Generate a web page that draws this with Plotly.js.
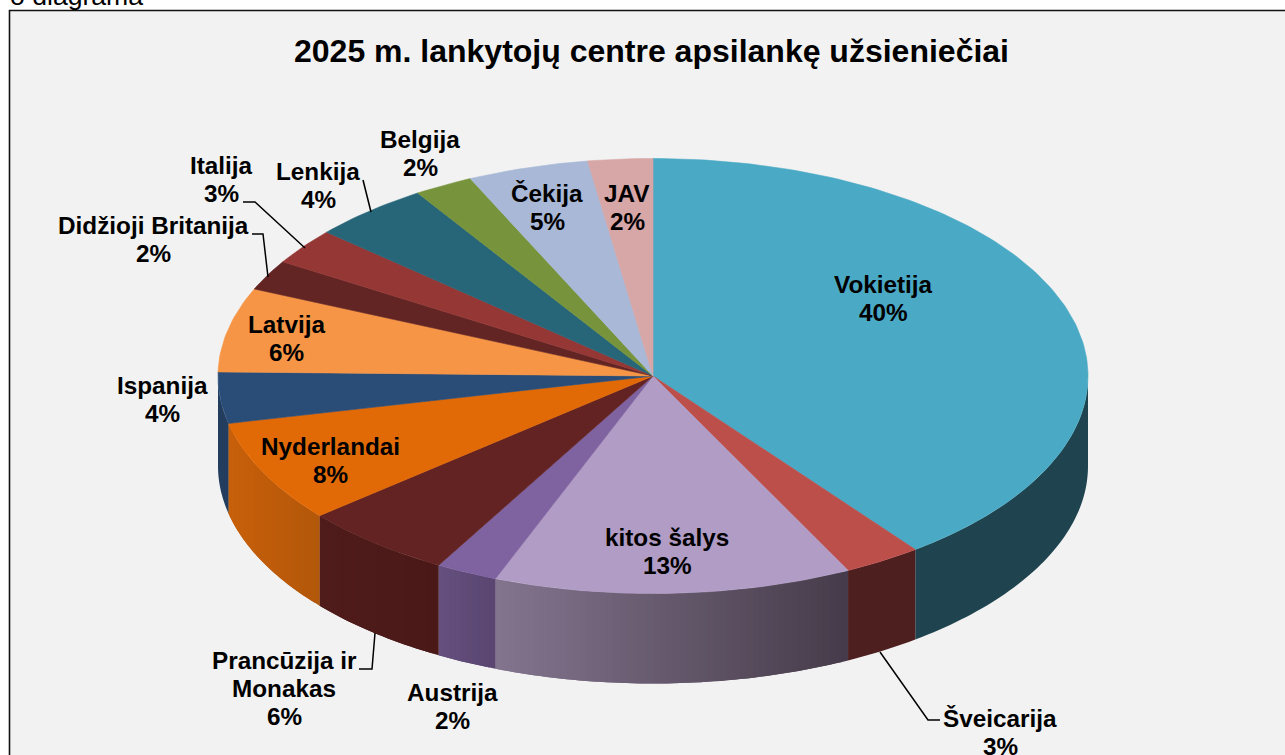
<!DOCTYPE html>
<html>
<head>
<meta charset="utf-8">
<script src="https://cdn.plot.ly/plotly-3.0.1.min.js"></script>
<style>html,body{margin:0;padding:0;background:#fff;overflow:hidden}#chart{width:1285px;height:755px}</style>
</head>
<body>
<div id="chart"></div>
<script>
// Data, clockwise from 12 o'clock
const categories = ["Vokietija","Šveicarija","kitos šalys","Austrija","Prancūzija ir Monakas","Nyderlandai","Ispanija","Latvija","Didžioji Britanija","Italija","Lenkija","Belgija","Čekija","JAV"];
const percentLabels = [40,3,13,2,6,8,4,6,2,3,4,2,5,2];
const sliceShares = [39.7,2.9,13.3,2.3,5.7,7.6,3.8,6.25,2.25,2.7,4.4,2.2,4.5,2.4];
const titleText = "2025 m. lankytojų centre apsilankę užsieniečiai";

// Styles
const topColors = ["#4aa9c5","#bd4f4b","#b09cc4","#7f63a0","#632323","#e26a06","#2a4d78","#f69545","#632523","#953735","#276678","#77933c","#a8b8d6","#d7a6a6"];
const sideLeft  = ["#1f444f","#4d1f1e","#84758f","#65507f","#4f1c1b","#c8600a","#223d5e","#000000","#000000","#000000","#000000","#000000","#000000","#000000"];
const sideRight = ["#1f444f","#4d1f1e","#453b49","#59456f","#4a1917","#b3570a","#223d5e","#000000","#000000","#000000","#000000","#000000","#000000","#000000"];

// Label layout: centre x, first line centre y
const labelPlaces = [[883,284],[1000,718],[667,537],[452,692],[284,660],[330,446],[162,385],[286,324],[153,225],[221,165],[318,171],[420,139],[547,193],[627,193]];
const labelLines = [["Vokietija"],["Šveicarija"],["kitos šalys"],["Austrija"],["Prancūzija ir","Monakas"],["Nyderlandai"],["Ispanija"],["Latvija"],["Didžioji Britanija"],["Italija"],["Lenkija"],["Belgija"],["Čekija"],["JAV"]];
const leaderPaths = ["M243,202L255,202L305,248","M252,234L263,234L268,277","M363,180L371,212","M359,669L372,669L375,633","M880,652L928,720L940,720"];

const cx = 653, cy = 376, rx = 435, ry = 217.5, depth = 90;
const FONT = "Liberation Sans, Arial, sans-serif";
const LBL = 24.3, LH = 28;

function px(a){ return cx + rx*Math.sin(a); }
function py(a){ return cy - ry*Math.cos(a); }
function hex(c){ return [1,3,5].map(i=>parseInt(c.substr(i,2),16)); }
function mix(a,b,t){ const A=hex(a),B=hex(b); return "rgb("+A.map((v,i)=>Math.round(v+(B[i]-v)*t)).join(",")+")"; }

const total = sliceShares.reduce((s,v)=>s+v,0);
let run = 0;
const ranges = sliceShares.map(v=>{ const a0=run/total*2*Math.PI; run+=v; return [a0, run/total*2*Math.PI]; });

const traces = [];
function poly(xs,ys,color,name,edge){
  traces.push({type:"scatter",mode:edge?"lines":"none",x:xs,y:ys,fill:"toself",fillcolor:color,
    line:{color:color,width:edge?0.6:0},hoverinfo:name?"text":"skip",text:name||"",showlegend:false});
}

// Side wall: only the front half of the rim is visible. Strips are painted
// in order and overlap the next one, so no seams show through.
ranges.forEach(([a0,a1],i)=>{
  const s=Math.max(a0,Math.PI/2), e=Math.min(a1,1.5*Math.PI);
  if(e<=s) return;
  const rightX=px(s), leftX=px(e);
  const flat = sideLeft[i]===sideRight[i];
  const strips = flat ? 1 : Math.max(8,Math.ceil((e-s)/(Math.PI/200)));
  const step=(e-s)/strips;
  for(let k=0;k<strips;k++){
    const u0=s+step*k, u1=Math.min(e,u0+step*(flat?1:2));
    const n=Math.max(2,Math.ceil((u1-u0)/(Math.PI/180)));
    const xs=[],ys=[];
    for(let j=0;j<=n;j++){ const a=u0+(u1-u0)*j/n; xs.push(px(a)); ys.push(py(a)); }
    for(let j=n;j>=0;j--){ const a=u0+(u1-u0)*j/n; xs.push(px(a)); ys.push(py(a)+depth); }
    const t = flat?0:(px(u0+step/2)-leftX)/(rightX-leftX);
    poly(xs,ys,mix(sideLeft[i],sideRight[i],t));
  }
});

// Top surface
ranges.forEach(([a0,a1],i)=>{
  const xs=[cx],ys=[cy];
  const n=Math.max(4,Math.ceil((a1-a0)/(Math.PI/180)));
  for(let j=0;j<=n;j++){ const a=a0+(a1-a0)*j/n; xs.push(px(a)); ys.push(py(a)); }
  xs.push(cx); ys.push(cy);
  poly(xs,ys,topColors[i],categories[i]+" "+percentLabels[i]+"%",true);
});

// Text
const annotations=[];
function addText(text,x,y,size,bold,anchor,vanchor){
  annotations.push({text:bold?"<b>"+text+"</b>":text,x,y,xref:"x",yref:"y",showarrow:false,
    xanchor:anchor||"center",yanchor:vanchor||"middle",font:{family:FONT,size,color:"#000"},borderpad:0,borderwidth:0});
}
categories.forEach((c,i)=>{
  const [x,y]=labelPlaces[i];
  labelLines[i].forEach((ln,k)=>addText(ln,x,y+k*LH,LBL,true));
  addText(percentLabels[i]+"%",x,y+labelLines[i].length*LH,LBL,true);
});
addText(titleText,651.5,51,32,true);
addText("o diagrama",10,11,26.6,false,"left","bottom");

const shapes=[
 {type:"rect",xref:"x",yref:"y",x0:9.5,y0:10.5,x1:1300,y1:780,layer:"below",fillcolor:"#f2f2f2",line:{color:"#111",width:1.6}},
 ...leaderPaths.map(p=>({type:"path",path:p,xref:"x",yref:"y",line:{color:"#000",width:1.5},layer:"above"}))
];

const hidden={visible:false,fixedrange:true,showgrid:false,zeroline:false};
Plotly.newPlot("chart",traces,{
  width:1285,height:755,margin:{l:0,r:0,t:0,b:0},
  paper_bgcolor:"#fff",plot_bgcolor:"rgba(0,0,0,0)",showlegend:false,
  xaxis:Object.assign({range:[0,1285]},hidden),
  yaxis:Object.assign({range:[755,0]},hidden),
  shapes,annotations
},{displayModeBar:false,staticPlot:true});
</script>
</body>
</html>
